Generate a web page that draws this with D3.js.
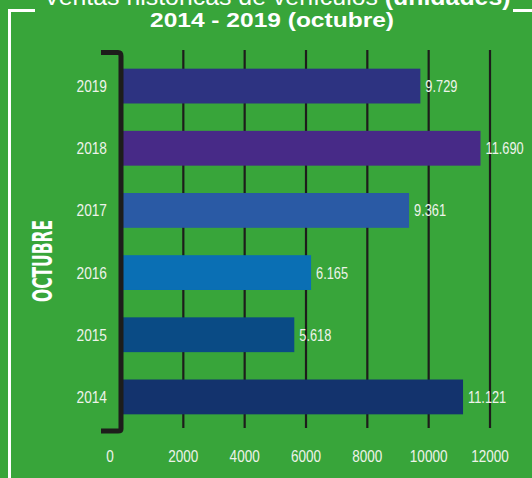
<!DOCTYPE html>
<html>
<head>
<meta charset="utf-8">
<script src="https://cdn.jsdelivr.net/npm/d3@7"></script>
<style>
  html, body { margin: 0; padding: 0; background: #38a53a; }
  svg { display: block; }
</style>
</head>
<body>
<svg id="chart" width="532" height="478"></svg>
<script>
// data
const years = ["2019", "2018", "2017", "2016", "2015", "2014"];
const sales = [9729, 11690, 9361, 6165, 5618, 11121];
const labels = ["9.729", "11.690", "9.361", "6.165", "5.618", "11.121"];
const barColors = ["#2d3381", "#472a87", "#2a5aa5", "#0a6fb4", "#0a4b85", "#13336d"];
const xTicks = [0, 2000, 4000, 6000, 8000, 10000, 12000];

const svg = d3.select("#chart");
const W = 532, H = 478;
const font = "'Liberation Sans', Arial, sans-serif";

// squeeze glyphs horizontally to mimic the narrow numerals of the original
function narrow(sel, k) {
    sel.each(function() {
        const w = this.getComputedTextLength();
        d3.select(this).attr("textLength", w * k).attr("lengthAdjust", "spacingAndGlyphs");
    });
}

svg.append("rect").attr("width", W).attr("height", H).attr("fill", "#38a53a");

// white frame pieces
svg.append("path")
    .attr("d", "M35,10.5 H9.5 V478")
    .attr("fill", "none").attr("stroke", "#fff").attr("stroke-width", 3);
svg.append("path")
    .attr("d", "M513,10.5 H532")
    .attr("fill", "none").attr("stroke", "#fff").attr("stroke-width", 3);

// title
const t1 = svg.append("text")
    .attr("x", 277).attr("y", 5)
    .attr("text-anchor", "middle")
    .attr("fill", "#fff")
    .attr("textLength", 467)
    .attr("lengthAdjust", "spacingAndGlyphs")
    .style("font-family", font)
    .style("font-size", "23px");
t1.append("tspan").text("Ventas históricas de vehículos ");
t1.append("tspan").attr("font-weight", "bold").text("(unidades)");

svg.append("text")
    .attr("x", 272).attr("y", 27)
    .attr("text-anchor", "middle")
    .attr("fill", "#fff")
    .attr("font-weight", "bold")
    .attr("textLength", 244)
    .attr("lengthAdjust", "spacingAndGlyphs")
    .style("font-family", font)
    .style("font-size", "20px")
    .text("2014 - 2019 (octubre)");

const x = d3.scaleLinear().domain([0, 12000]).range([122, 490]);
const y = d3.scaleBand().domain(years).range([55, 428]).paddingInner(0.44).paddingOuter(0.22);

// gridlines
svg.append("g")
    .selectAll("line")
    .data(xTicks.slice(1))
    .join("line")
    .attr("x1", d => x(d)).attr("x2", d => x(d))
    .attr("y1", 50).attr("y2", 428)
    .attr("stroke", "#1d1d1b").attr("stroke-width", 2.2);

// bars
svg.append("g")
    .selectAll("rect")
    .data(years)
    .join("rect")
    .attr("x", x(0))
    .attr("y", d => y(d))
    .attr("width", (d, i) => x(sales[i]) - x(0))
    .attr("height", y.bandwidth())
    .attr("fill", (d, i) => barColors[i]);

// value labels
svg.append("g")
    .selectAll("text")
    .data(years)
    .join("text")
    .attr("x", (d, i) => x(sales[i]) + 5)
    .attr("y", d => y(d) + y.bandwidth() / 2 + 6)
    .attr("fill", "#eef3ea")
    .style("font-family", font)
    .style("font-size", "16px")
    .text((d, i) => labels[i])
    .call(narrow, 0.8);

// year labels
svg.append("g")
    .selectAll("text")
    .data(years)
    .join("text")
    .attr("x", 107)
    .attr("y", d => y(d) + y.bandwidth() / 2 + 6)
    .attr("text-anchor", "end")
    .attr("fill", "#eef3ea")
    .style("font-family", font)
    .style("font-size", "16.5px")
    .text(d => d)
    .call(narrow, 0.83);

// thick axis bracket
svg.append("path")
    .attr("d", `M101,52.5 H118 Q${x(0) - 1},52.5 ${x(0) - 1},56 V429 Q${x(0) - 1},431 118,431 H101`)
    .attr("fill", "none").attr("stroke", "#1d1d1b").attr("stroke-width", 5);

// x tick labels
svg.append("g")
    .selectAll("text")
    .data(xTicks)
    .join("text")
    .attr("x", d => d === 0 ? x(d) - 12 : x(d))
    .attr("y", 462)
    .attr("text-anchor", "middle")
    .attr("fill", "#eef3ea")
    .style("font-family", font)
    .style("font-size", "16.5px")
    .text(d => d)
    .call(narrow, 0.82);

// side label
svg.append("text")
    .attr("transform", "translate(52,261) rotate(-90)")
    .attr("text-anchor", "middle")
    .attr("fill", "#fff")
    .attr("font-weight", "bold")
    .attr("textLength", 82)
    .attr("lengthAdjust", "spacingAndGlyphs")
    .style("font-family", "'DejaVu Sans Condensed', 'Liberation Sans', sans-serif")
    .style("font-stretch", "condensed")
    .style("font-size", "26px")
    .text("OCTUBRE");
</script>
</body>
</html>
